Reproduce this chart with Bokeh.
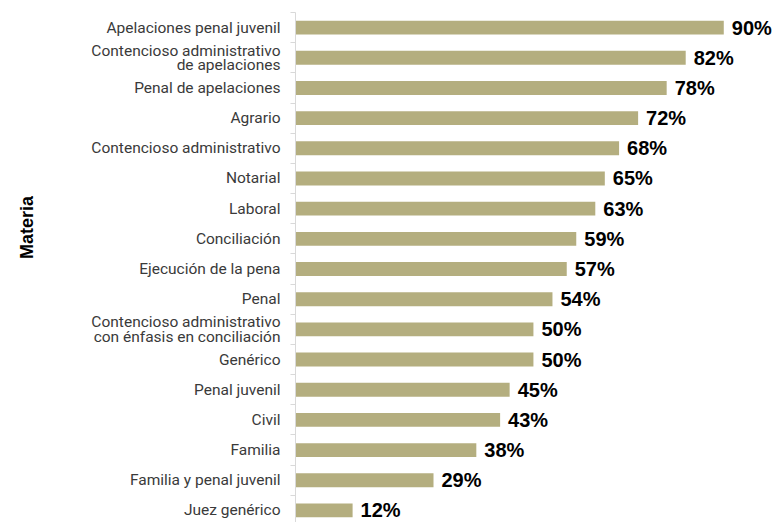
from bokeh.plotting import figure
from bokeh.models import Range1d, FixedTicker, ColumnDataSource
from bokeh.core.properties import value
from bokeh.embed import file_html
from bokeh.resources import INLINE

categories = [
    "Apelaciones penal juvenil",
    "Contencioso administrativo\nde apelaciones",
    "Penal de apelaciones",
    "Agrario",
    "Contencioso administrativo",
    "Notarial",
    "Laboral",
    "Conciliación",
    "Ejecución de la pena",
    "Penal",
    "Contencioso administrativo\ncon énfasis en conciliación",
    "Genérico",
    "Penal juvenil",
    "Civil",
    "Familia",
    "Familia y penal juvenil",
    "Juez genérico",
]
values = [90, 82, 78, 72, 68, 65, 63, 59, 57, 54, 50, 50, 45, 43, 38, 29, 12]
value_labels = [f"{v}%" for v in values]
axis_title = "Materia"

n = len(categories)
pos = [n - 1 - i for i in range(n)]

src = ColumnDataSource(dict(y=pos, v=values, lab=value_labels))

p = figure(width=778, height=522, output_backend="svg", toolbar_location=None,
           x_range=Range1d(0, 101.5), y_range=Range1d(-0.4, n - 0.5),
           min_border_left=295, min_border_right=0, min_border_top=12, min_border_bottom=0)
p.outline_line_color = None
p.xgrid.visible = False
p.ygrid.visible = False
p.xaxis.visible = False

p.hbar(y="y", right="v", left=0, height=0.46, source=src, fill_color="#b4ae7f", line_color=None)
p.text(x="v", y="y", text="lab", source=src, x_offset=8, text_baseline="middle", text_align="left",
       text_font=value("Liberation Sans"), text_font_style="bold", text_font_size="20px", text_color="black")

ax = p.yaxis[0]
ax.ticker = FixedTicker(ticks=pos, minor_ticks=[k - 0.5 for k in range(n + 1)])
ax.major_label_overrides = {pp: c for pp, c in zip(pos, categories)}
ax.major_tick_out = 0
ax.major_tick_in = 0
ax.minor_tick_out = 5
ax.minor_tick_in = 0
ax.minor_tick_line_color = "#d9d9d9"
ax.axis_line_color = "#d9d9d9"
ax.major_label_standoff = 10
ax.major_label_text_font = "Roboto"
ax.major_label_text_font_size = "15.5px"
ax.major_label_text_color = "#3a3a3a"
ax.major_label_text_line_height = 0.8
# pad with non-breaking spaces so the centred title sits higher, as in the reference
ax.axis_label = "\u00a0" * 16 + axis_title
ax.axis_label_text_font = "Liberation Sans"
ax.axis_label_text_font_style = "bold"
ax.axis_label_text_font_size = "18px"
ax.axis_label_text_color = "black"
ax.axis_label_standoff = 51

open("out.html", "w").write(file_html(p, INLINE))
